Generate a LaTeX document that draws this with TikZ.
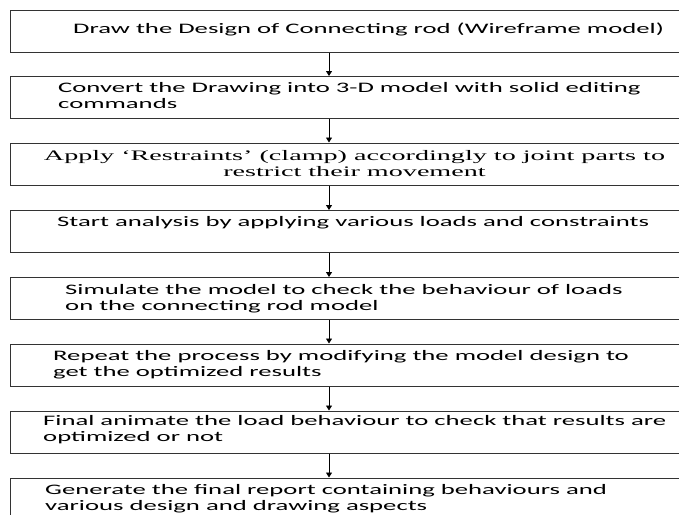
\documentclass[tikz,border=0pt]{standalone}
\usepackage{fontspec}
\setmainfont[FakeStretch=1.84]{Carlito}
\newfontfamily\timeswide[FakeStretch=1.94]{Liberation Serif}
\usetikzlibrary{arrows.meta}

\begin{document}
\begin{tikzpicture}[x=1pt, y=-1pt,
        stepbox/.style={draw=black!80, line width=1pt, minimum width=690pt, minimum height=42pt, inner sep=0pt},
        steptext/.style={anchor=base west, align=left, inner sep=0pt, font=\fontsize{14.5}{16.5}\selectfont},
        flow/.style={-{Triangle[length=5pt,width=6pt]}, line width=0.9pt}]
        \useasboundingbox (0,0) rectangle (679,514);
        \clip (0,0) rectangle (679,514);
        \coordinate (axis) at (329,0);
        % the eight steps
        \node (b1) [stepbox] at (355,31) {};
        \node (b2) [stepbox] at (355,97.5) {};
        \node (b3) [stepbox] at (355,164) {};
        \node (b4) [stepbox] at (355,231.5) {};
        \node (b5) [stepbox] at (355,298.5) {};
        \node (b6) [stepbox] at (355,365) {};
        \node (b7) [stepbox] at (355,432) {};
        \node (b8) [stepbox] at (355,499) {};
        % their texts (base = last line)
        \node (t1) [steptext] at (73,33) {Draw the Design of Connecting rod (Wireframe model)};
        \node (t2) [steptext] at (58,108.5) {Convert the Drawing into 3-D model with solid editing\\commands};
        \node (t3) [steptext, anchor=base, align=center, font=\timeswide\fontsize{14.5}{16.5}\selectfont] at (354.5,176.5) {Apply ‘Restraints’ (clamp) accordingly to joint parts to\\restrict their movement};
        \node (t4) [steptext] at (57,226) {Start analysis by applying various loads and constraints};
        \node (t5) [steptext] at (65,310.5) {Simulate the model to check the behaviour of loads\\on the connecting rod model};
        \node (t6) [steptext] at (53,376.5) {Repeat the process by modifying the model design to\\get the optimized results};
        \node (t7) [steptext] at (43,441.5) {Final animate the load behaviour to check that results are\\optimized or not};
        \node (t8) [steptext] at (45,510.5) {Generate the final report containing behaviours and\\various design and drawing aspects};
        \draw (b1.south -| axis) edge [flow] (b2.north -| axis);
        \draw (b2.south -| axis) edge [flow] (b3.north -| axis);
        \draw (b3.south -| axis) edge [flow] (b4.north -| axis);
        \draw (b4.south -| axis) edge [flow] (b5.north -| axis);
        \draw (b5.south -| axis) edge [flow] (b6.north -| axis);
        \draw (b6.south -| axis) edge [flow] (b7.north -| axis);
        \draw (b7.south -| axis) edge [flow] (b8.north -| axis);
\end{tikzpicture}
\end{document}
